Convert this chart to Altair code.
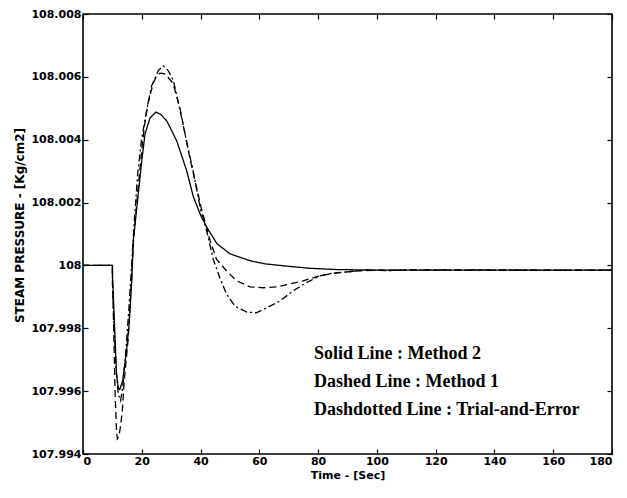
import altair as alt
import pandas as pd

# ---- data ----
t_solid = [0, 10, 10.05, 10.3, 10.9, 11.4, 12.0, 12.5, 13.5, 14.8, 15.7, 16.6, 17.1, 18.8, 20.0,
           21.1, 22.8, 24.8, 26.5, 28.5, 31.9, 35.3, 37.5, 40.0, 42.2, 45.6, 50.0, 56.8, 62.0,
           68.0, 77.0, 86.0, 100.0, 180.0]
y_solid = [108.0, 108.0, 107.9996, 107.9991, 107.9977, 107.99655, 107.9961, 107.99605, 107.99633,
           107.99728, 107.99814, 107.99951, 108.00078, 108.00227, 108.00333, 108.00418, 108.00469,
           108.00488, 108.00480, 108.0046, 108.00396, 108.00301, 108.0022, 108.0016, 108.0012,
           108.00069, 108.00037, 108.00015, 108.00005, 107.99999, 107.99991, 107.99987, 107.99985,
           107.99985]

t_dashed = [0, 10, 10.05, 10.4, 10.9, 11.4, 11.7, 12.2, 12.8, 13.4, 14.0, 14.7, 15.4, 16.3, 17.2,
            18.8, 20.0, 21.0, 22.2, 23.9, 25.0, 26.2, 27.5, 28.5, 30.6, 33.0, 34.7, 36.4, 38.1,
            39.1, 40.3, 41.5, 43.2, 45.4, 48.8, 52.3, 56.8, 61.3, 65.9, 70.4, 74.9, 79.5, 84.0,
            88.5, 94.0, 100.0, 180.0]
y_dashed = [108.0, 108.0, 107.9994, 107.9982, 107.9960, 107.99475, 107.99448, 107.99455, 107.9949,
            107.9954, 107.9963, 107.9970, 107.9977, 107.9992, 108.0008, 108.0025, 108.0037,
            108.0045, 108.0052, 108.0058, 108.00603, 108.00612, 108.0061, 108.00603, 108.0058,
            108.0050, 108.0042, 108.0034, 108.0027, 108.0023, 108.0018, 108.0014, 108.0008,
            108.0002, 107.99983, 107.99951, 107.99932, 107.99929, 107.99932, 107.99941, 107.99951,
            107.99964, 107.99973, 107.99978, 107.99983, 107.99985, 107.99985]

t_dashdot = [0, 10, 10.05, 10.5, 11.2, 12.0, 12.8, 13.6, 14.6, 15.6, 16.6, 17.6, 18.6, 19.9, 21.6,
             23.3, 25.6, 27.3, 29.0, 30.7, 32.4, 34.0, 35.8, 37.5, 38.9, 40.2, 41.5, 42.6, 44.3,
             46.6, 48.8, 51.7, 55.6, 59.0, 62.5, 67.0, 71.5, 76.0, 80.6, 85.0, 90.8, 96.0, 104.0,
             110.0, 180.0]
y_dashdot = [108.0, 108.0, 107.9994, 107.9982, 107.9968, 107.9959, 107.9957, 107.9962, 107.9973,
             107.9986, 108.0001, 108.0016, 108.0029, 108.0040, 108.0049, 108.0057, 108.0062,
             108.00635, 108.0062, 108.0059, 108.0052, 108.0045, 108.0037, 108.0030, 108.0023,
             108.0017, 108.0013, 108.0009, 108.0002, 107.9996, 107.9991, 107.9987, 107.99852,
             107.99849, 107.99865, 107.99887, 107.99919, 107.99945, 107.99967, 107.99976, 107.9998,
             107.99986, 107.99983, 107.99986, 107.99985]

series_names = ["Method 2", "Method 1", "Trial-and-Error"]
x_ticks = [0, 20, 40, 60, 80, 100, 120, 140, 160, 180]
y_ticks = [107.994, 107.996, 107.998, 108.0, 108.002, 108.004, 108.006, 108.008]
legend_lines = ["Solid Line : Method 2", "Dashed Line : Method 1",
                "Dashdotted Line : Trial-and-Error"]

rows = []
for name, ts, ys in zip(series_names, [t_solid, t_dashed, t_dashdot],
                        [y_solid, y_dashed, y_dashdot]):
    for i, (t, y) in enumerate(zip(ts, ys)):
        rows.append({"series": name, "t": t, "p": y, "i": i})
df = pd.DataFrame(rows)

xscale = alt.Scale(domain=[0, 180], nice=False, zero=False)
yscale = alt.Scale(domain=[107.994, 108.008], nice=False, zero=False)

lines = alt.Chart(df).mark_line(color="black", strokeWidth=1.3, clip=True).encode(
    x=alt.X("t:Q", scale=xscale,
            axis=alt.Axis(values=x_ticks, title="Time - [Sec]", offset=-5, tickSize=5,
                          labelPadding=1, titlePadding=3, titleFontSize=11,
                          domain=False, grid=False)),
    y=alt.Y("p:Q", scale=yscale,
            axis=alt.Axis(values=y_ticks, format=".6~r", title="STEAM PRESSURE - [Kg/cm2]",
                          offset=-5, tickSize=5, labelPadding=2, titlePadding=4,
                          titleY=211, domain=False, grid=False)),
    strokeDash=alt.StrokeDash("series:N",
                              scale=alt.Scale(domain=series_names,
                                              range=[[1, 0], [7, 4], [7, 3, 2, 3]]),
                              legend=None),
    order=alt.Order("i:Q"),
)

frame = alt.Chart(df).mark_line(opacity=0).encode(
    x=alt.X("t:Q", scale=xscale,
            axis=alt.Axis(orient="top", values=x_ticks, labels=False, title="", offset=-5,
                          tickSize=5, domain=False, grid=False)),
    y=alt.Y("p:Q", scale=yscale,
            axis=alt.Axis(orient="right", values=y_ticks, labels=False, title="", offset=-5,
                          tickSize=5, domain=False, grid=False)),
    detail="series:N",
)

texts = []
for k, line in enumerate(legend_lines):
    texts.append(
        alt.Chart(pd.DataFrame({"label": [line]})).mark_text(
            align="left", baseline="middle", font="Liberation Serif", fontWeight="bold",
            fontSize=18, color="black"
        ).encode(x=alt.value(231), y=alt.value(340 + 28 * k), text="label:N")
    )

chart = alt.layer(lines, frame, *texts).resolve_axis(
    x="independent", y="independent"
).properties(
    width=529, height=440,
    autosize=alt.AutoSizeParams(type="none"),
    padding={"left": 75, "top": 6, "right": 6, "bottom": 30},
).configure_view(
    stroke="black", strokeWidth=1.6
).configure_axis(
    labelFont="DejaVu Sans", labelFontWeight="bold", labelFontSize=11, labelColor="black",
    tickColor="black", tickWidth=1.2,
    titleFont="DejaVu Sans", titleFontWeight="bold", titleFontSize=12, titleColor="black",
)

chart.save("out.html", embed_options={"renderer": "svg", "actions": False})
